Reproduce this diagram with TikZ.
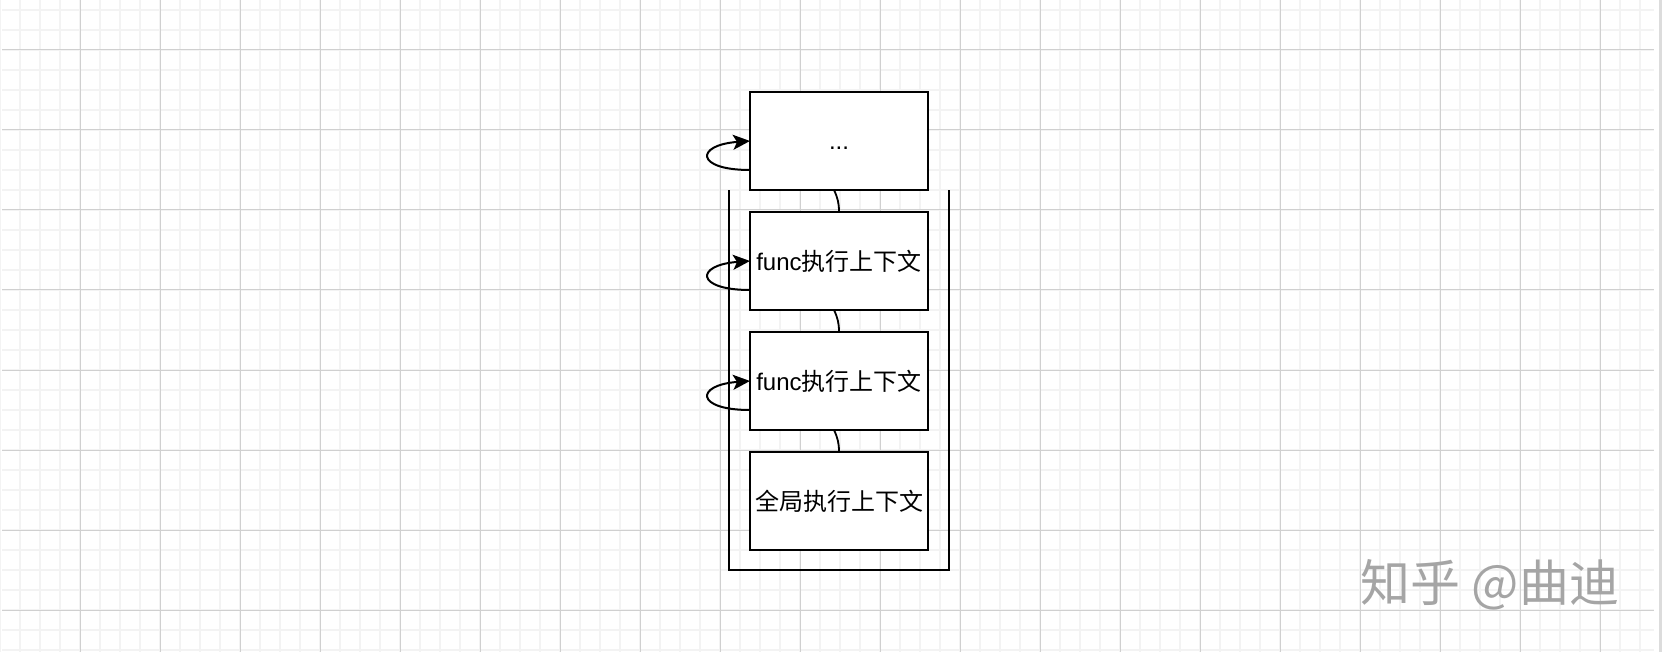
\documentclass[tikz,border=0pt]{standalone}
\usepackage{fontspec}
\setmainfont{Liberation Sans}
\newfontfamily\cjk{Noto Sans CJK SC}
\usetikzlibrary{arrows.meta, positioning}
\definecolor{minorgrid}{HTML}{F3F3F3}
\definecolor{majorgrid}{HTML}{D0D0D0}
\definecolor{markgray}{HTML}{A5A5A5}
\tikzset{
  ctxbox/.style={rectangle, draw=black, fill=white, line width=2.4pt, outer sep=0pt, minimum width=178pt, minimum height=98pt, text centered, font=\fontsize{24}{28}\selectfont},
  stackwall/.style={line width=2pt, line cap=rect},
  link/.style={line width=1.8pt},
  loop/.style={line width=2pt, -{Stealth[length=17pt, width=15pt, inset=4pt]}}
}

\begin{document}
\begin{tikzpicture}[x=1pt, y=-1pt, node distance=22pt]

  \useasboundingbox (0,0) rectangle (1662,652);
  \fill[white] (0,0) rectangle (1662,652);

  % background grid
  \foreach \gx in {0,20,...,1640} \draw[minorgrid, line width=1.2pt] (\gx,0) -- (\gx,652);
  \foreach \gy in {10,30,...,650} \draw[minorgrid, line width=1.2pt] (2,\gy) -- (1654,\gy);
  \foreach \gx in {80,160,...,1600} \draw[majorgrid, line width=1pt] (\gx,0) -- (\gx,652);
  \foreach \gy in {50,130,...,610} \draw[majorgrid, line width=1pt] (2,\gy) -- (1654,\gy);
  \fill[white] (1654,0) rectangle (1659,652);
  \fill[minorgrid!80!gray] (1659,0) rectangle (1662,652);

  % stack
  \coordinate (wallTL) at (729,191);
  \coordinate (wallBR) at (949,570);
  \draw[stackwall] (wallTL) |- (wallBR) -- (wallBR |- wallTL);

  \node (dots) [ctxbox] at (839,141) {\vphantom{f}...};
  \node (funcTwo) [ctxbox, below=of dots] {func{\cjk 执行上下文}};
  \node (funcOne) [ctxbox, below=of funcTwo] {func{\cjk 执行上下文}};
  \node (globalCtx) [ctxbox, below=of funcOne] {{\cjk 全局执行上下文}};

  \draw[link] ([xshift=-5pt]dots.south) to[out=-65, in=90] (funcTwo.north);
  \draw[link] ([xshift=-5pt]funcTwo.south) to[out=-65, in=90] (funcOne.north);
  \draw[link] ([xshift=-5pt]funcOne.south) to[out=-65, in=90] (globalCtx.north);

  \draw[loop] ([yshift=-29pt]dots.west) .. controls +(-55,0) and +(-55,4) .. (dots.west);
  \draw[loop] ([yshift=-29pt]funcTwo.west) .. controls +(-55,0) and +(-55,4) .. (funcTwo.west);
  \draw[loop] ([yshift=-29pt]funcOne.west) .. controls +(-55,0) and +(-55,4) .. (funcOne.west);

  % watermark
  \node (zhihu) [text=markgray, font=\cjk\fontsize{50}{54}\selectfont] at (1490,585) {知乎 @曲迪};

\end{tikzpicture}
\end{document}
